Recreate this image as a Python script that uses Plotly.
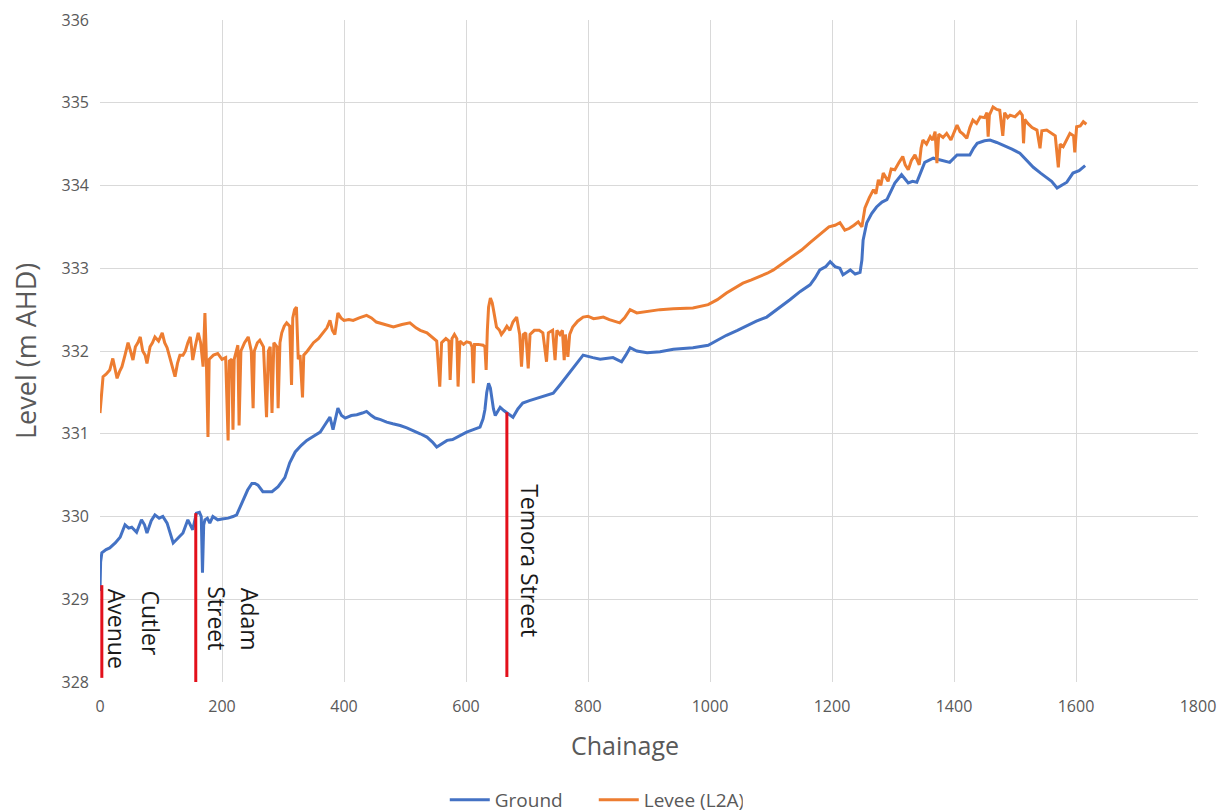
import plotly.graph_objects as go

# ---------------- data ----------------
ground_ch = [0, 1, 3, 10, 16, 25, 33, 41, 47, 52, 60, 68, 73, 77, 84, 90, 97, 103, 110, 115, 120, 128, 136, 144, 148, 152,
             158, 163, 166, 168, 170, 172, 176, 180, 185, 193, 200, 210, 218, 224, 230, 235, 242, 249, 254, 259, 267, 275,
             282, 292, 303, 311, 320, 330, 339, 350, 361, 368, 377, 382, 386, 390, 396, 402, 412, 421, 430, 437, 445, 451,
             460, 470, 480, 492, 503, 513, 525, 536, 545, 552, 560, 569, 578, 585, 595, 601, 612, 623, 628, 631, 634, 637,
             640, 642, 645, 648, 652, 656, 662, 667, 672, 677, 685, 693, 704, 716, 730, 743, 754, 765, 778, 792, 808, 820,
             841, 855, 862, 869, 880, 897, 918, 940, 972, 997, 1012, 1027, 1045, 1061, 1076, 1093, 1110, 1131, 1148, 1164,
             1172, 1180, 1190, 1197, 1205, 1213, 1218, 1225, 1230, 1238, 1246, 1249, 1251, 1257, 1265, 1273, 1282, 1290,
             1297, 1303, 1314, 1320, 1325, 1332, 1339, 1345, 1352, 1366, 1380, 1393, 1405, 1426, 1432, 1438, 1450, 1459,
             1470, 1480, 1495, 1508, 1520, 1530, 1542, 1552, 1560, 1569, 1577, 1585, 1595, 1605, 1615]
ground_lvl = [329.10, 329.45, 329.56, 329.60, 329.62, 329.68, 329.75, 329.90, 329.86, 329.87, 329.81, 329.96, 329.90,
              329.80, 329.95, 330.02, 329.98, 330.00, 329.92, 329.80, 329.68, 329.74, 329.80, 329.96, 329.90, 329.84,
              330.04, 330.05, 330.00, 329.32, 329.90, 329.96, 329.98, 329.92, 330.00, 329.96, 329.97, 329.98, 330.00,
              330.02, 330.12, 330.20, 330.32, 330.40, 330.40, 330.38, 330.30, 330.30, 330.30, 330.36, 330.47, 330.65,
              330.78, 330.86, 330.92, 330.97, 331.02, 331.10, 331.20, 331.05, 331.20, 331.31, 331.22, 331.19, 331.22,
              331.23, 331.25, 331.27, 331.22, 331.19, 331.17, 331.14, 331.12, 331.10, 331.07, 331.04, 331.00, 330.96,
              330.90, 330.84, 330.88, 330.92, 330.93, 330.96, 331.00, 331.02, 331.05, 331.08, 331.18, 331.29, 331.50,
              331.61, 331.55, 331.45, 331.30, 331.22, 331.28, 331.32, 331.28, 331.25, 331.22, 331.20, 331.30, 331.37,
              331.40, 331.43, 331.46, 331.49, 331.59, 331.69, 331.82, 331.95, 331.92, 331.90, 331.92, 331.87, 331.95,
              332.04, 332.00, 331.98, 331.99, 332.02, 332.04, 332.07, 332.13, 332.19, 332.25, 332.31, 332.36, 332.41,
              332.50, 332.62, 332.72, 332.80, 332.88, 332.98, 333.02, 333.08, 333.02, 333.00, 332.92, 332.95, 332.98,
              332.93, 332.95, 333.10, 333.34, 333.55, 333.66, 333.74, 333.80, 333.83, 333.95, 334.03, 334.13, 334.08,
              334.03, 334.05, 334.04, 334.15, 334.28, 334.33, 334.30, 334.28, 334.37, 334.37, 334.45, 334.51, 334.54,
              334.55, 334.52, 334.49, 334.44, 334.39, 334.30, 334.22, 334.15, 334.10, 334.05, 333.97, 334.00, 334.04,
              334.15, 334.18, 334.24]

levee_ch = [0, 3, 5, 10, 16, 21, 25, 28, 32, 36, 41, 46, 50, 54, 58, 62, 66, 70, 74, 77, 82, 86, 90, 96, 102, 106, 110,
            115, 119, 123, 127, 131, 136, 140, 144, 148, 150, 152, 156, 161, 165, 169, 172, 174, 177, 179, 186, 193, 200,
            206, 210, 212, 216, 218, 220, 226, 228, 231, 237, 243, 248, 251, 253, 258, 262, 268, 273, 276, 279, 282, 285,
            290, 292, 295, 298, 302, 306, 311, 314, 316, 319, 322, 325, 328, 332, 334, 340, 350, 358, 366, 372, 377, 381,
            385, 390, 395, 400, 408, 415, 425, 437, 445, 453, 467, 481, 495, 508, 518, 525, 536, 546, 552, 557, 560, 567,
            572, 574, 577, 581, 585, 587, 590, 596, 601, 607, 610, 612, 614, 620, 628, 631, 633, 635, 637, 640, 643, 645,
            650, 655, 658, 663, 667, 672, 677, 683, 688, 691, 694, 698, 702, 705, 712, 720, 726, 732, 735, 742, 746, 749,
            754, 758, 761, 763, 767, 770, 775, 783, 792, 800, 809, 817, 825, 835, 845, 852, 860, 869, 880, 900, 918, 940,
            972, 997, 1012, 1027, 1040, 1054, 1068, 1082, 1094, 1104, 1120, 1136, 1150, 1164, 1175, 1185, 1195, 1205,
            1213, 1221, 1228, 1236, 1243, 1249, 1254, 1261, 1268, 1272, 1276, 1280, 1284, 1288, 1292, 1297, 1303, 1310,
            1316, 1320, 1325, 1330, 1336, 1340, 1343, 1346, 1349, 1355, 1361, 1365, 1369, 1372, 1375, 1382, 1388, 1395,
            1400, 1405, 1410, 1415, 1421, 1426, 1431, 1437, 1443, 1450, 1454, 1456, 1458, 1464, 1470, 1475, 1480, 1483,
            1488, 1492, 1500, 1508, 1512, 1514, 1516, 1521, 1528, 1536, 1541, 1544, 1552, 1560, 1566, 1571, 1574, 1579,
            1585, 1590, 1596, 1598, 1601, 1607, 1612, 1617]
levee_lvl = [331.25, 331.60, 331.69, 331.72, 331.77, 331.91, 331.75, 331.67, 331.75, 331.81, 331.95, 332.10, 332.00,
             331.89, 332.05, 332.10, 332.17, 332.00, 331.95, 331.85, 332.05, 332.10, 332.17, 332.12, 332.22, 332.10,
             332.04, 331.90, 331.80, 331.69, 331.85, 331.95, 331.95, 332.00, 332.10, 332.17, 332.05, 331.89, 332.05,
             332.22, 332.10, 331.81, 332.46, 332.00, 330.96, 331.90, 331.95, 331.97, 331.90, 331.92, 330.92, 331.88,
             331.90, 331.05, 331.90, 332.07, 331.10, 332.00, 332.10, 332.17, 332.00, 331.31, 332.00, 332.10, 332.13,
             332.05, 331.20, 332.00, 332.05, 331.25, 332.10, 332.05, 331.31, 332.10, 332.22, 332.30, 332.34, 332.30,
             331.59, 332.40, 332.50, 332.53, 331.90, 331.95, 331.44, 331.95, 332.00, 332.10, 332.15, 332.22, 332.28,
             332.37, 332.25, 332.20, 332.46, 332.40, 332.37, 332.38, 332.37, 332.40, 332.43, 332.40, 332.35, 332.32,
             332.29, 332.32, 332.34, 332.28, 332.25, 332.22, 332.15, 332.12, 331.57, 332.10, 332.15, 332.12, 331.65,
             332.15, 332.20, 332.15, 331.57, 332.12, 332.08, 332.11, 332.10, 332.05, 331.61, 332.08, 332.08, 332.07,
             332.05, 331.77, 332.25, 332.53, 332.64, 332.58, 332.50, 332.29, 332.25, 332.20, 332.25, 332.30, 332.25,
             332.35, 332.41, 332.20, 331.81, 332.20, 332.22, 331.79, 332.20, 332.25, 332.25, 332.22, 331.87, 332.22,
             332.25, 331.89, 332.25, 332.20, 332.25, 331.89, 332.20, 331.93, 332.20, 332.29, 332.36, 332.41, 332.42,
             332.39, 332.40, 332.41, 332.38, 332.36, 332.34, 332.40, 332.50, 332.46, 332.48, 332.50, 332.51, 332.52,
             332.56, 332.62, 332.70, 332.76, 332.82, 332.86, 332.90, 332.94, 332.98, 333.06, 333.14, 333.22, 333.31,
             333.38, 333.44, 333.50, 333.52, 333.55, 333.46, 333.48, 333.52, 333.56, 333.50, 333.73, 333.85, 333.95,
             333.90, 334.07, 334.00, 334.15, 334.10, 334.05, 334.20, 334.19, 334.28, 334.35, 334.25, 334.19, 334.30,
             334.37, 334.30, 334.25, 334.45, 334.55, 334.50, 334.59, 334.55, 334.65, 334.27, 334.62, 334.58, 334.63,
             334.55, 334.65, 334.73, 334.65, 334.62, 334.57, 334.70, 334.79, 334.75, 334.83, 334.82, 334.88, 334.59,
             334.85, 334.95, 334.92, 334.91, 334.60, 334.88, 334.82, 334.85, 334.83, 334.89, 334.85, 334.51, 334.80,
             334.75, 334.70, 334.67, 334.45, 334.66, 334.67, 334.63, 334.60, 334.22, 334.50, 334.47, 334.55, 334.63,
             334.60, 334.40, 334.71, 334.72, 334.77, 334.74]

# street markers (red vertical lines)
street_ch = [3, 157, 667]
street_top = [329.17, 330.04, 331.26]
street_bottom = [328.05, 327.93, 328.06]

# street labels (rotated text)
label_text = ["Avenue", "Cutler", "Street", "Adam", "Temora Street"]
label_ch = [28, 82, 192, 247, 705]
label_top = [329.15, 329.13, 329.18, 329.16, 330.42]

x_ticks = list(range(0, 2000, 200))
y_ticks = list(range(328, 337))

# ---------------- figure ----------------
GRAY = "#595959"
FONT = "Open Sans, Noto Sans, sans-serif"

fig = go.Figure()
fig.add_trace(go.Scatter(x=ground_ch, y=ground_lvl, mode="lines", name="Ground",
                         line=dict(color="#4472C4", width=3)))
fig.add_trace(go.Scatter(x=levee_ch, y=levee_lvl, mode="lines", name="Levee (L2A)",
                         line=dict(color="#ED7D31", width=3)))

for c, t, b in zip(street_ch, street_top, street_bottom):
    fig.add_shape(type="line", xref="x", yref="y", x0=c, x1=c, y0=b, y1=t,
                  line=dict(color="#E3101B", width=3), layer="above")

for txt, c, top in zip(label_text, label_ch, label_top):
    fig.add_annotation(x=c, y=top, xref="x", yref="y", text=txt, showarrow=False,
                       textangle=90, xanchor="center", yanchor="top",
                       font=dict(family=FONT, size=23, color="#1a1a1a"))

# axis titles as annotations for precise placement
fig.add_annotation(x=0, y=0.5, xref="paper", yref="paper", xshift=-75, text="Level (m AHD)",
                   showarrow=False, textangle=-90, xanchor="center", yanchor="middle",
                   font=dict(family=FONT, size=27, color=GRAY))
fig.add_annotation(x=0.478, y=0, xref="paper", yref="paper", yshift=-63, text="Chainage",
                   showarrow=False, xanchor="center", yanchor="middle",
                   font=dict(family=FONT, size=25, color=GRAY))

# page body has an 8px default margin, so the figure is sized/offset to compensate
fig.update_layout(
    width=1218, height=804,
    margin=dict(l=92, r=28, t=12, b=130, autoexpand=False),
    paper_bgcolor="white", plot_bgcolor="white",
    font=dict(family=FONT, color=GRAY),
    showlegend=True,
    legend=dict(orientation="h", x=0.314, xanchor="left", y=-0.178, yanchor="middle",
                font=dict(size=19, color=GRAY), itemwidth=40,
                entrywidth=94, entrywidthmode="pixels"),
    xaxis=dict(range=[0, 1800], tickvals=x_ticks, showgrid=True, gridcolor="#d9d9d9", gridwidth=1,
               zeroline=False, showline=False, ticks="", tickfont=dict(size=16, color=GRAY),
               ticklabelstandoff=13, automargin=False),
    yaxis=dict(range=[328, 336], tickvals=y_ticks, showgrid=True, gridcolor="#d9d9d9", gridwidth=1,
               zeroline=False, showline=False, ticks="", tickfont=dict(size=16, color=GRAY),
               ticklabelstandoff=10, automargin=False),
)

fig.write_html("out.html")
